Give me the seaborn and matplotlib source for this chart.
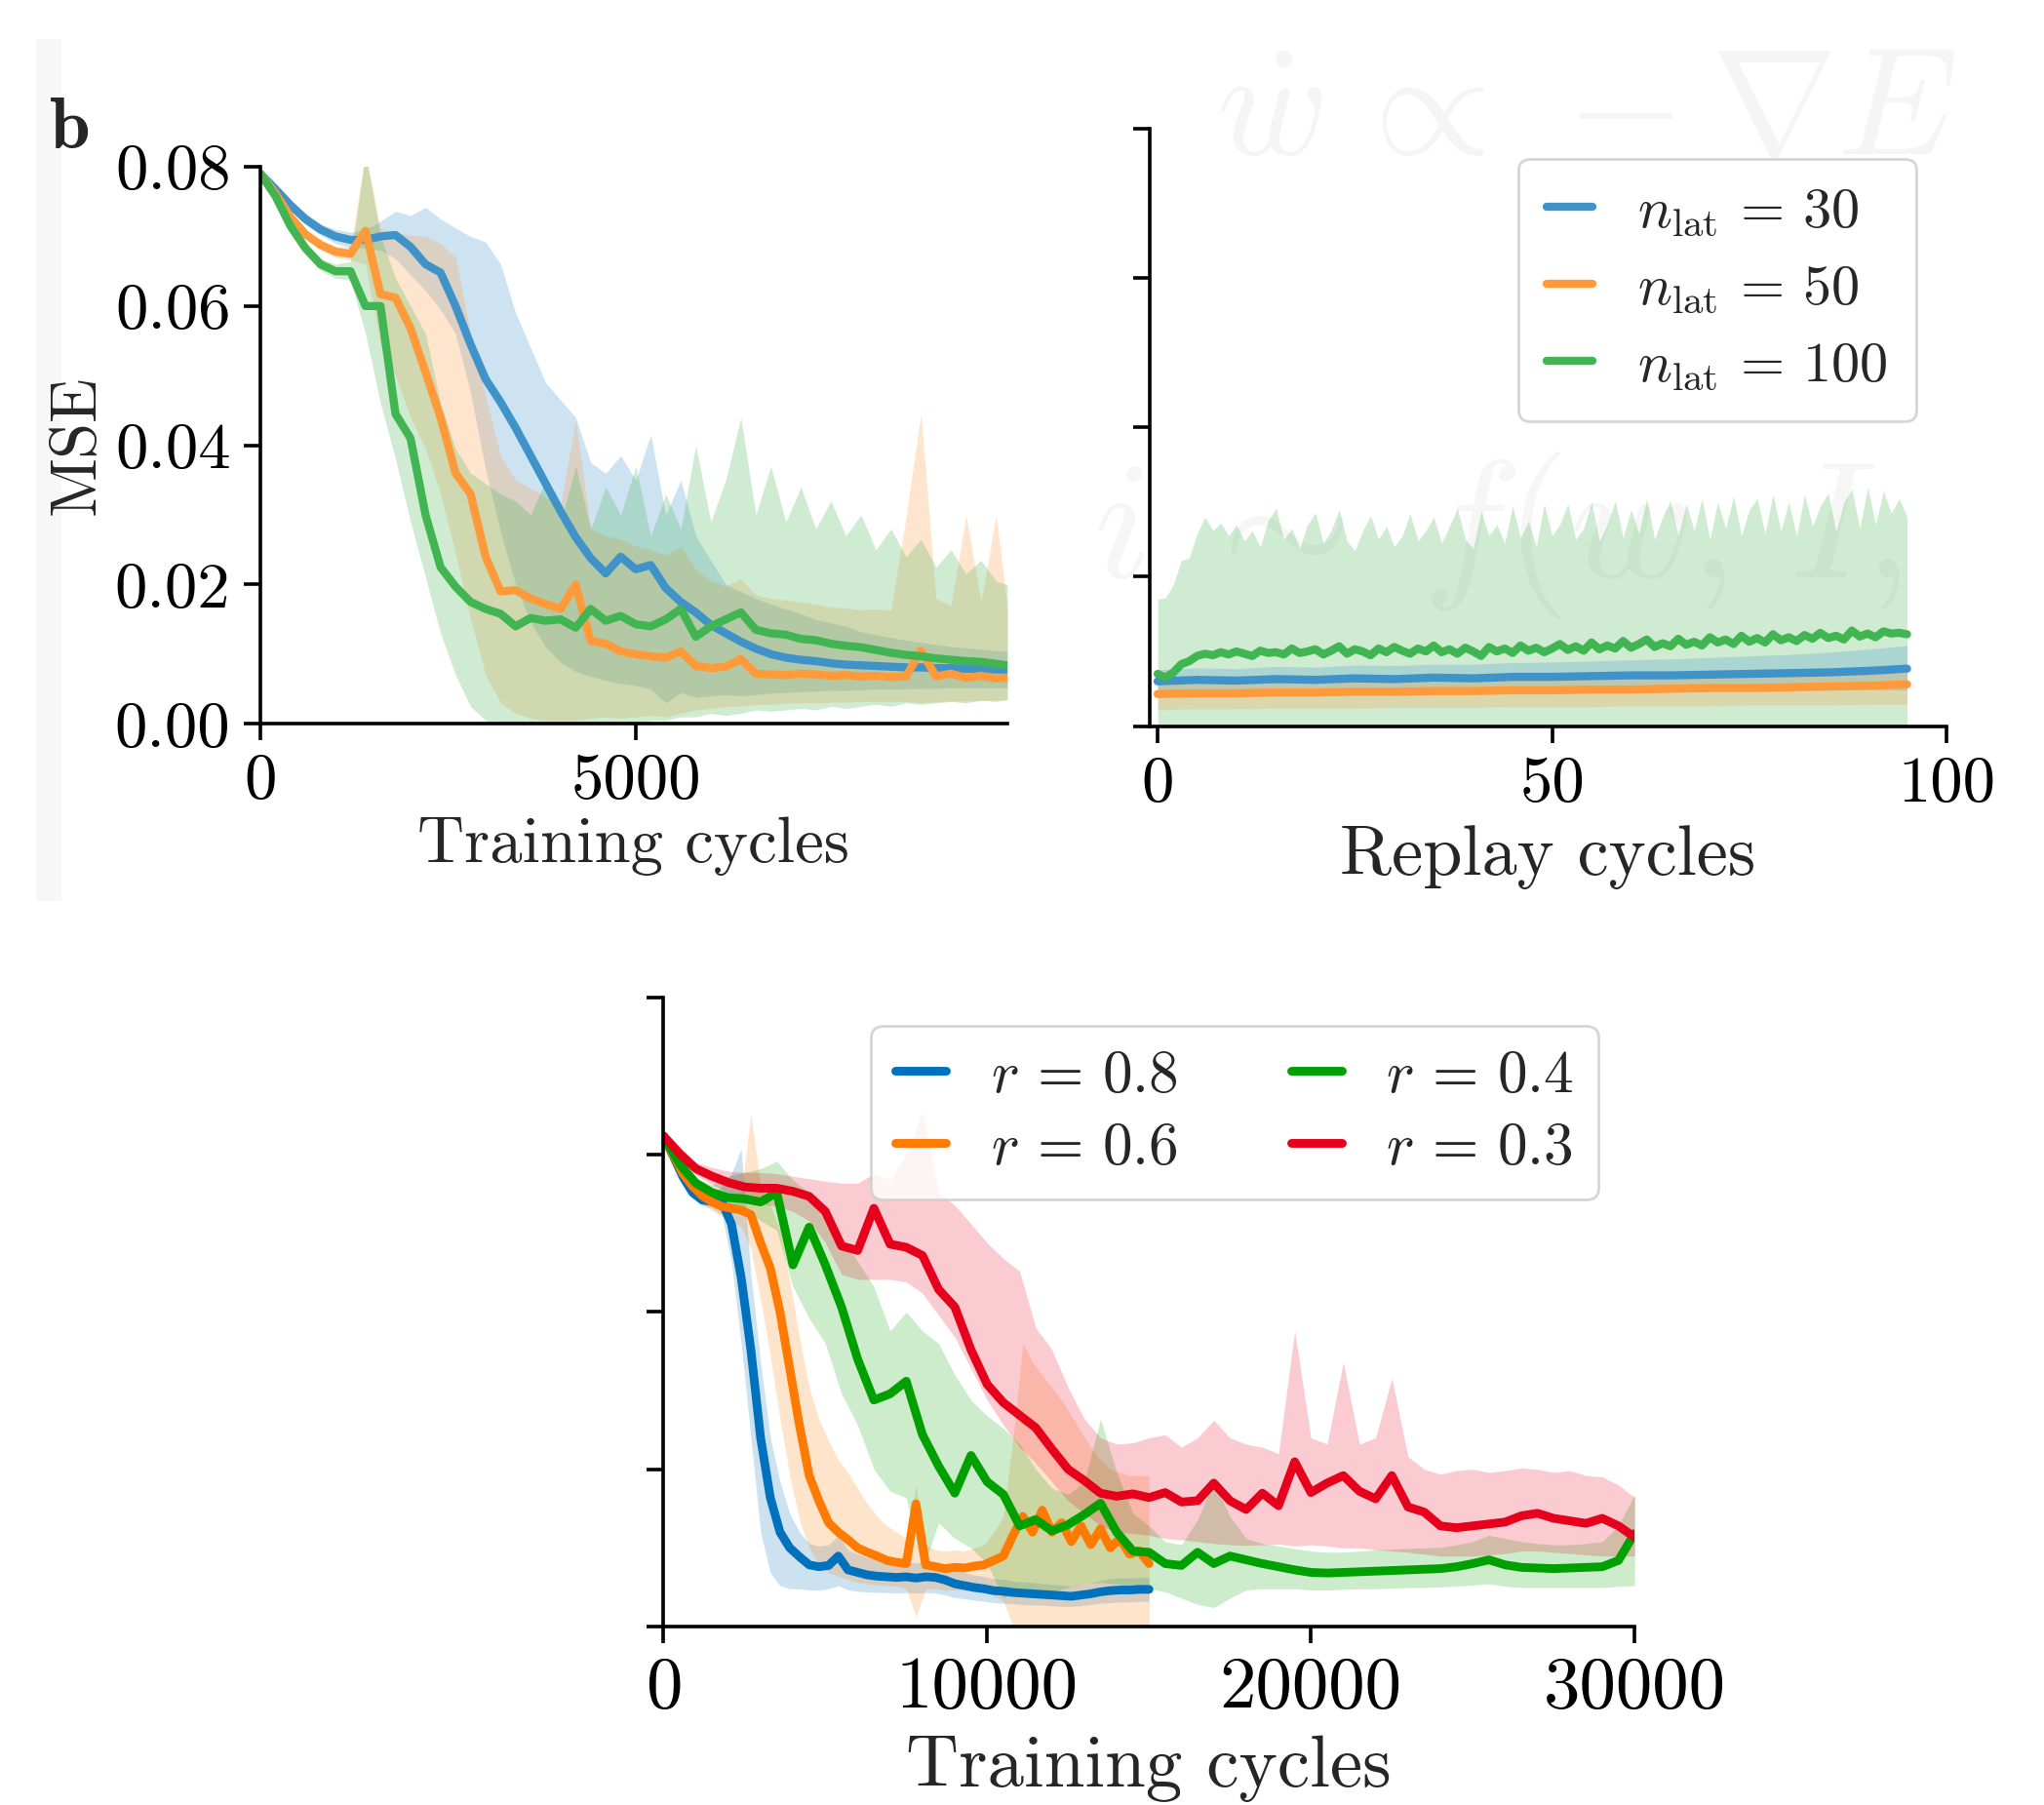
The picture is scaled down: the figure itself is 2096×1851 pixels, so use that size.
import numpy as np
import matplotlib
matplotlib.use("Agg")
import matplotlib.pyplot as plt
import seaborn as sns
from matplotlib.patches import Rectangle

# estilo
sns.set_style("ticks")
plt.rcParams['font.family'] = 'serif'
plt.rcParams['font.serif'] = ['cmr10']
plt.rcParams['mathtext.fontset'] = 'cm'
plt.rcParams['axes.formatter.use_mathtext'] = True

# ---------------- datos: panel superior izquierdo (entrenamiento, n_lat) ----------------
tl_x = np.r_[0:9801:200, 9950]

tl_blue = [.0790, .0768, .0745, .0725, .0710, .0700, .0695, .0695, .0700, .0702,
           .0685, .0660, .0648, .0600, .0545, .0495, .0462, .0425, .0385, .0345,
           .0305, .0268, .0238, .0216, .0240, .0222, .0228, .0195, .0175, .0160,
           .0142, .0130, .0118, .0108, .0100, .0095, .0092, .0090, .0087, .0085,
           .0084, .0083, .0082, .0081, .0081, .0080, .0080, .0079, .0079, .0078, .0078]
tl_blue_lo = [.0785, .0762, .0738, .0717, .0702, .0690, .0684, .0683, .0680, .0668,
              .0645, .0622, .0595, .0560, .0475, .0365, .0275, .0200, .0145, .0110,
              .0088, .0075, .0068, .0062, .0058, .0055, .0050, .0030, .0045, .0038,
              .0040, .0042, .0040, .0042, .0044, .0045, .0046, .0047, .0048, .0048,
              .0049, .0050, .0050, .0050, .0051, .0051, .0052, .0052, .0052, .0052, .0052]
tl_blue_hi = [.0795, .0774, .0752, .0733, .0718, .0710, .0706, .0710, .0722, .0736,
              .0730, .0742, .0725, .0712, .0700, .0692, .0660, .0590, .0540, .0490,
              .0465, .0440, .0375, .0360, .0385, .0350, .0415, .0300, .0350, .0270,
              .0235, .0200, .0190, .0180, .0172, .0165, .0158, .0150, .0145, .0140,
              .0132, .0128, .0124, .0120, .0117, .0114, .0111, .0109, .0107, .0105, .0104]

tl_orange = [.0790, .0762, .0728, .0703, .0688, .0678, .0675, .0708, .0617, .0612,
             .0568, .0505, .0440, .0360, .0330, .0240, .0190, .0192, .0180, .0172,
             .0165, .0200, .0119, .0115, .0104, .0100, .0097, .0095, .0104, .0083,
             .0080, .0082, .0093, .0072, .0071, .0070, .0072, .0071, .0069, .0070,
             .0068, .0069, .0067, .0068, .0105, .0068, .0072, .0066, .0069, .0065, .0066]
tl_orange_lo = [.0786, .0757, .0722, .0697, .0681, .0670, .0666, .0660, .0545, .0500,
                .0440, .0395, .0330, .0245, .0150, .0070, .0030, .0015, .0008, .0005,
                .0005, .0005, .0008, .0010, .0008, .0010, .0012, .0010, .0015, .0020,
                .0022, .0025, .0025, .0028, .0028, .0030, .0030, .0030, .0031, .0031,
                .0032, .0032, .0032, .0032, .0030, .0032, .0033, .0033, .0033, .0034, .0034]
tl_orange_hi = [.0794, .0767, .0734, .0709, .0695, .0686, .0685, .0820, .0712, .0705,
                .0702, .0700, .0690, .0670, .0560, .0470, .0385, .0350, .0338, .0325,
                .0315, .0436, .0280, .0270, .0265, .0255, .0250, .0242, .0255, .0222,
                .0205, .0198, .0208, .0185, .0180, .0178, .0175, .0172, .0168, .0166,
                .0164, .0165, .0163, .0297, .0445, .0180, .0170, .0300, .0175, .0300, .0170]

tl_green = [.0790, .0758, .0715, .0683, .0660, .0650, .0650, .0600, .0600, .0445,
            .0410, .0300, .0225, .0197, .0175, .0165, .0158, .0140, .0152, .0148,
            .0150, .0138, .0165, .0148, .0155, .0143, .0140, .0150, .0165, .0125,
            .0140, .0150, .0160, .0135, .0130, .0128, .0122, .0120, .0115, .0112,
            .0110, .0106, .0102, .0099, .0097, .0094, .0092, .0090, .0089, .0086, .0084]
tl_green_lo = [.0786, .0752, .0708, .0675, .0651, .0640, .0637, .0560, .0460, .0380,
               .0290, .0210, .0130, .0070, .0025, .0005, .0000, .0000, .0000, .0000,
               .0000, .0000, .0000, .0000, .0000, .0000, .0005, .0005, .0010, .0010,
               .0015, .0012, .0015, .0020, .0018, .0020, .0022, .0020, .0025, .0022,
               .0025, .0028, .0025, .0030, .0028, .0030, .0032, .0030, .0034, .0032, .0035]
tl_green_hi = [.0794, .0764, .0722, .0691, .0669, .0660, .0664, .0820, .0700, .0640,
               .0600, .0560, .0460, .0395, .0360, .0345, .0330, .0320, .0300, .0350,
               .0290, .0370, .0280, .0340, .0300, .0370, .0270, .0330, .0280, .0400,
               .0290, .0350, .0440, .0300, .0370, .0290, .0340, .0280, .0320, .0270,
               .0300, .0250, .0280, .0240, .0265, .0225, .0250, .0215, .0235, .0205, .0200]

# ---------------- datos: panel superior derecho (replay) ----------------
rp_x = np.arange(96)
rp_x5 = np.arange(0, 96, 5)

rp_green = [.0070, .0065, .0072, .0083, .0087, .0094, .0097, .0095, .0099, .0096,
            .0100, .0097, .0094, .0101, .0098, .0099, .0096, .0104, .0098, .0100,
            .0103, .0096, .0101, .0107, .0097, .0103, .0100, .0095, .0104, .0099,
            .0106, .0101, .0097, .0104, .0100, .0108, .0099, .0103, .0097, .0105,
            .0100, .0094, .0106, .0100, .0104, .0098, .0108, .0101, .0105, .0099,
            .0104, .0110, .0102, .0107, .0101, .0112, .0103, .0108, .0104, .0114,
            .0105, .0110, .0116, .0106, .0111, .0107, .0117, .0109, .0113, .0108,
            .0119, .0112, .0116, .0110, .0121, .0113, .0118, .0112, .0123, .0115,
            .0119, .0114, .0122, .0117, .0125, .0118, .0121, .0116, .0128, .0120,
            .0124, .0119, .0127, .0124, .0125, .0123]
rp_green_hi = [.0170, .0172, .0190, .0222, .0225, .0258, .0280, .0262, .0272, .0255,
               .0270, .0248, .0262, .0240, .0275, .0292, .0250, .0265, .0238, .0270,
               .0286, .0245, .0262, .0290, .0248, .0235, .0262, .0282, .0250, .0268,
               .0240, .0255, .0285, .0248, .0262, .0280, .0245, .0268, .0292, .0250,
               .0238, .0288, .0255, .0270, .0245, .0295, .0252, .0275, .0240, .0298,
               .0255, .0270, .0298, .0250, .0265, .0300, .0248, .0270, .0302, .0252,
               .0290, .0258, .0305, .0250, .0280, .0302, .0255, .0298, .0262, .0305,
               .0250, .0300, .0265, .0308, .0255, .0290, .0305, .0258, .0310, .0262,
               .0300, .0255, .0310, .0268, .0295, .0312, .0260, .0300, .0318, .0265,
               .0320, .0270, .0315, .0285, .0305, .0280]
rp_green_lo = 0.0

rp_blue = [.0060, .0062, .0061, .0063, .0062, .0064, .0063, .0065, .0064, .0066,
           .0066, .0067, .0068, .0068, .0069, .0070, .0071, .0072, .0074, .0077]
rp_blue_lo = [.0047, .0049, .0048, .0049, .0049, .0050, .0049, .0050, .0050, .0051,
              .0050, .0051, .0051, .0050, .0051, .0051, .0050, .0050, .0049, .0048]
rp_blue_hi = [.0076, .0078, .0077, .0080, .0079, .0082, .0081, .0083, .0083, .0085,
              .0086, .0087, .0089, .0090, .0092, .0094, .0096, .0099, .0103, .0108]
rp_orange = [.0043, .0044, .0044, .0045, .0045, .0046, .0046, .0047, .0047, .0048,
             .0048, .0049, .0049, .0050, .0051, .0051, .0052, .0053, .0054, .0056]
rp_orange_lo = [.0022, .0023, .0023, .0024, .0024, .0024, .0025, .0025, .0025, .0026,
                .0026, .0026, .0027, .0027, .0027, .0028, .0028, .0028, .0029, .0029]
rp_orange_hi = [.0064, .0065, .0065, .0066, .0066, .0067, .0067, .0068, .0069, .0069,
                .0070, .0071, .0071, .0072, .0073, .0074, .0075, .0077, .0078, .0080]

# ---------------- datos: panel inferior (ratio r) ----------------
bt_xs = np.arange(0, 15001, 300)
bt_xl = np.arange(0, 30001, 500)

r08 = [.0780, .0748, .0715, .0690, .0678, .0676, .0676, .0640, .0555, .0440,
       .0300, .0205, .0150, .0125, .0111, .0098, .0095, .0097, .0112, .0090,
       .0086, .0082, .0080, .0079, .0078, .0079, .0077, .0079, .0078, .0074,
       .0068, .0065, .0062, .0060, .0057, .0056, .0054, .0053, .0052, .0051,
       .0050, .0049, .0048, .0050, .0052, .0055, .0057, .0058, .0058, .0059, .0059]
r08_lo = [.0776, .0742, .0708, .0682, .0669, .0665, .0655, .0580, .0450, .0300,
          .0150, .0085, .0065, .0060, .0060, .0058, .0058, .0060, .0065, .0058,
          .0056, .0055, .0054, .0054, .0053, .0054, .0053, .0054, .0053, .0050,
          .0046, .0044, .0042, .0040, .0038, .0037, .0036, .0035, .0034, .0034,
          .0033, .0032, .0032, .0033, .0035, .0037, .0038, .0039, .0039, .0040, .0040]
r08_hi = [.0784, .0754, .0722, .0698, .0687, .0687, .0700, .0720, .0760, .0560,
          .0420, .0300, .0230, .0180, .0150, .0132, .0128, .0130, .0145, .0122,
          .0115, .0110, .0106, .0104, .0103, .0104, .0101, .0104, .0103, .0098,
          .0090, .0086, .0082, .0080, .0076, .0075, .0072, .0071, .0070, .0068,
          .0067, .0066, .0064, .0067, .0069, .0073, .0076, .0077, .0077, .0078, .0078]

r06 = [.0780, .0750, .0720, .0700, .0685, .0675, .0668, .0665, .0662, .0655,
       .0610, .0570, .0500, .0410, .0320, .0240, .0200, .0165, .0150, .0138,
       .0125, .0118, .0112, .0105, .0102, .0100, .0195, .0098, .0095, .0092,
       .0094, .0093, .0096, .0098, .0105, .0112, .0145, .0175, .0150, .0185,
       .0150, .0165, .0135, .0160, .0130, .0155, .0125, .0140, .0115, .0120, .0100]
r06_lo = [.0776, .0744, .0712, .0690, .0673, .0661, .0652, .0645, .0635, .0600,
          .0520, .0430, .0330, .0240, .0170, .0125, .0100, .0085, .0080, .0075,
          .0070, .0068, .0066, .0065, .0064, .0060, .0015, .0060, .0060, .0058,
          .0058, .0058, .0058, .0055, .0050, .0040, .0000, .0000, .0000, .0000,
          .0000, .0000, .0000, .0000, .0000, .0000, .0000, .0000, .0000, .0000, .0000]
r06_hi = [.0784, .0756, .0728, .0710, .0697, .0689, .0684, .0685, .0690, .0815,
          .0700, .0670, .0630, .0550, .0460, .0380, .0330, .0295, .0265, .0245,
          .0220, .0195, .0175, .0160, .0150, .0140, .0225, .0130, .0122, .0120,
          .0122, .0120, .0125, .0130, .0150, .0175, .0300, .0450, .0420, .0400,
          .0380, .0360, .0335, .0310, .0285, .0265, .0250, .0245, .0240, .0240, .0240]

r04 = [.0780, .0735, .0705, .0690, .0682, .0680, .0675, .0690, .0575, .0635,
       .0575, .0508, .0425, .0360, .0370, .0390, .0305, .0255, .0212, .0272,
       .0230, .0210, .0160, .0170, .0152, .0162, .0178, .0196, .0150, .0120,
       .0118, .0100, .0097, .0118, .0100, .0112, .0106, .0100, .0095, .0090,
       .0086, .0085, .0086, .0087, .0088, .0089, .0090, .0091, .0092, .0095,
       .0100, .0106, .0098, .0094, .0093, .0092, .0093, .0094, .0095, .0105, .0148]
r04_lo = [.0776, .0728, .0696, .0678, .0668, .0660, .0645, .0630, .0540, .0490,
          .0450, .0370, .0320, .0250, .0215, .0205, .0090, .0165, .0140, .0125,
          .0100, .0045, .0060, .0052, .0055, .0062, .0068, .0070, .0068, .0062,
          .0060, .0055, .0045, .0035, .0030, .0045, .0058, .0060, .0060, .0060,
          .0058, .0058, .0059, .0060, .0060, .0061, .0062, .0062, .0063, .0064,
          .0066, .0068, .0064, .0062, .0062, .0062, .0062, .0062, .0062, .0064, .0065]
r04_hi = [.0784, .0742, .0714, .0702, .0716, .0722, .0728, .0740, .0710, .0690,
          .0660, .0620, .0580, .0540, .0470, .0500, .0470, .0450, .0400, .0360,
          .0335, .0315, .0290, .0250, .0220, .0210, .0230, .0330, .0245, .0180,
          .0160, .0135, .0130, .0170, .0230, .0175, .0140, .0132, .0128, .0124,
          .0120, .0118, .0118, .0120, .0122, .0123, .0124, .0125, .0126, .0130,
          .0135, .0145, .0140, .0135, .0132, .0130, .0130, .0132, .0135, .0160, .0210]

r03 = [.0780, .0752, .0728, .0716, .0706, .0699, .0697, .0697, .0692, .0684,
       .0660, .0605, .0598, .0665, .0608, .0603, .0590, .0536, .0508, .0440,
       .0385, .0356, .0336, .0316, .0282, .0250, .0232, .0212, .0207, .0211,
       .0205, .0213, .0198, .0200, .0228, .0200, .0186, .0212, .0192, .0262,
       .0213, .0228, .0240, .0215, .0203, .0240, .0190, .0182, .0160, .0157,
       .0160, .0163, .0166, .0176, .0180, .0172, .0168, .0164, .0172, .0160, .0142]
r03_lo = [.0776, .0745, .0718, .0703, .0690, .0678, .0672, .0668, .0660, .0645,
          .0610, .0560, .0552, .0552, .0552, .0548, .0530, .0495, .0460, .0410,
          .0360, .0320, .0285, .0260, .0230, .0200, .0180, .0160, .0150, .0148,
          .0145, .0140, .0138, .0135, .0132, .0130, .0129, .0130, .0131, .0128,
          .0130, .0128, .0125, .0125, .0122, .0120, .0118, .0115, .0112, .0112,
          .0112, .0114, .0116, .0120, .0120, .0118, .0116, .0114, .0112, .0112, .0112]
r03_hi = [.0784, .0759, .0738, .0730, .0724, .0722, .0722, .0720, .0716, .0712,
          .0708, .0705, .0705, .0720, .0710, .0750, .0820, .0690, .0670, .0640,
          .0610, .0585, .0565, .0475, .0440, .0380, .0330, .0300, .0290, .0292,
          .0300, .0305, .0285, .0300, .0328, .0300, .0290, .0285, .0275, .0470,
          .0300, .0290, .0420, .0290, .0300, .0395, .0270, .0250, .0242, .0248,
          .0250, .0245, .0248, .0252, .0250, .0245, .0248, .0240, .0238, .0225, .0205]

# colores
top_cols = ['#3f93c9', '#ff9a3a', '#41b552']
bot_cols = ['#0072bd', '#ff7a00', '#00a000', '#e6001c']

# ---------------- figura ----------------
fig = plt.figure(figsize=(10.48, 9.255), dpi=200)

# marca de agua tenue (detras de todo)
fig.patches.append(Rectangle((0.018, 0.502), 0.011, 0.476, transform=fig.transFigure,
                             color='#f7f7f7', zorder=-5))
fig.text(0.595, 0.915, r'$\dot{w}\,\propto\,-\nabla E$', fontsize=56, color='#f5f5f5', zorder=-5)
fig.text(0.535, 0.68, r'$i\;\sim\;f(w,\,I,$', fontsize=62, color='#f6f6f6', zorder=-5)


def style_axes(ax, size):
    ax.set_facecolor('none')
    sns.despine(ax=ax)
    for s in ['left', 'bottom']:
        ax.spines[s].set_linewidth(1.3)
        ax.spines[s].set_color('black')
    ax.tick_params(length=6, width=1.3, labelsize=size, colors='black', pad=5)


def draw(ax, x, y, lo, hi, col, lab, lw, alpha):
    ax.fill_between(x, lo, hi, color=col, alpha=alpha, lw=0)
    sns.lineplot(x=x, y=y, ax=ax, color=col, linewidth=lw, label=lab, legend=False)


# panel superior izquierdo
ax1 = fig.add_axes([0.1274, 0.599, 0.3654, 0.3086])
draw(ax1, tl_x, tl_blue, tl_blue_lo, tl_blue_hi, top_cols[0], r'$n_{\rm lat}=30$', 3.0, 0.25)
draw(ax1, tl_x, tl_orange, tl_orange_lo, tl_orange_hi, top_cols[1], r'$n_{\rm lat}=50$', 3.0, 0.25)
draw(ax1, tl_x, tl_green, tl_green_lo, tl_green_hi, top_cols[2], r'$n_{\rm lat}=100$', 3.0, 0.25)
ax1.set_xlim(0, 9950)
ax1.set_ylim(0, 0.08)
ax1.set_xticks([0, 5000])
ax1.set_xticklabels(['0', '5000'])
ax1.set_yticks([0, 0.02, 0.04, 0.06, 0.08])
ax1.set_yticklabels(['0.00', '0.02', '0.04', '0.06', '0.08'])
ax1.set_xlabel('Training cycles', fontsize=24, labelpad=2)
ax1.set_ylabel('MSE', fontsize=24, labelpad=3)
style_axes(ax1, 24)
fig.text(0.024, 0.928, r'$\mathbf{b}$', fontsize=27, ha='left', va='center')

# panel superior derecho
ax2 = fig.add_axes([0.5625, 0.5977, 0.3898, 0.331])
ax2.fill_between(rp_x, rp_green_lo, rp_green_hi, color=top_cols[2], alpha=0.25, lw=0)
ax2.fill_between(rp_x5, rp_blue_lo, rp_blue_hi, color=top_cols[0], alpha=0.25, lw=0)
ax2.fill_between(rp_x5, rp_orange_lo, rp_orange_hi, color=top_cols[1], alpha=0.25, lw=0)
sns.lineplot(x=rp_x5, y=rp_blue, ax=ax2, color=top_cols[0], linewidth=3.0, label=r'$n_{\rm lat}\,=\,30$')
sns.lineplot(x=rp_x5, y=rp_orange, ax=ax2, color=top_cols[1], linewidth=3.0, label=r'$n_{\rm lat}\,=\,50$')
sns.lineplot(x=rp_x, y=rp_green, ax=ax2, color=top_cols[2], linewidth=3.0, label=r'$n_{\rm lat}\,=\,100$')
ax2.set_xlim(-1, 100)
ax2.set_ylim(0, 0.08)
ax2.set_xticks([0, 50, 100])
ax2.set_xticklabels(['0', '50', '100'])
ax2.set_yticks([0, 0.02, 0.04, 0.06, 0.08])
ax2.set_yticklabels([])
ax2.set_xlabel('Replay cycles', fontsize=26, labelpad=4)
ax2.set_ylabel('')
style_axes(ax2, 24)
ax2.legend(loc='upper right', bbox_to_anchor=(0.962, 0.95), borderaxespad=0,
           fontsize=21, handlelength=0.8, handletextpad=0.8, labelspacing=0.45,
           borderpad=0.5, frameon=True, edgecolor='#cccccc', fancybox=True)

# panel inferior
ax3 = fig.add_axes([0.3246, 0.0989, 0.4751, 0.3484])
draw(ax3, bt_xs, r08, r08_lo, r08_hi, bot_cols[0], r'$r\,=\,0.8$', 3.2, 0.2)
draw(ax3, bt_xs, r06, r06_lo, r06_hi, bot_cols[1], r'$r\,=\,0.6$', 3.2, 0.2)
draw(ax3, bt_xl, r04, r04_lo, r04_hi, bot_cols[2], r'$r\,=\,0.4$', 3.2, 0.2)
draw(ax3, bt_xl, r03, r03_lo, r03_hi, bot_cols[3], r'$r\,=\,0.3$', 3.2, 0.2)
ax3.set_xlim(0, 30000)
ax3.set_ylim(0, 0.1)
ax3.set_xticks([0, 10000, 20000, 30000])
ax3.set_xticklabels(['0', '10000', '20000', '30000'])
ax3.set_yticks([0, 0.025, 0.05, 0.075, 0.1])
ax3.set_yticklabels([])
ax3.set_xlabel('Training cycles', fontsize=27, labelpad=5)
style_axes(ax3, 27)
h, l = ax3.get_legend_handles_labels()
ax3.legend(h, l, loc='upper left', bbox_to_anchor=(0.214, 0.955), borderaxespad=0, ncol=2,
           fontsize=22, handlelength=0.85, handletextpad=0.75, columnspacing=1.9,
           labelspacing=0.3, borderpad=0.4, frameon=True, edgecolor='#cccccc', fancybox=True)

fig.savefig('out.png', dpi=200)
